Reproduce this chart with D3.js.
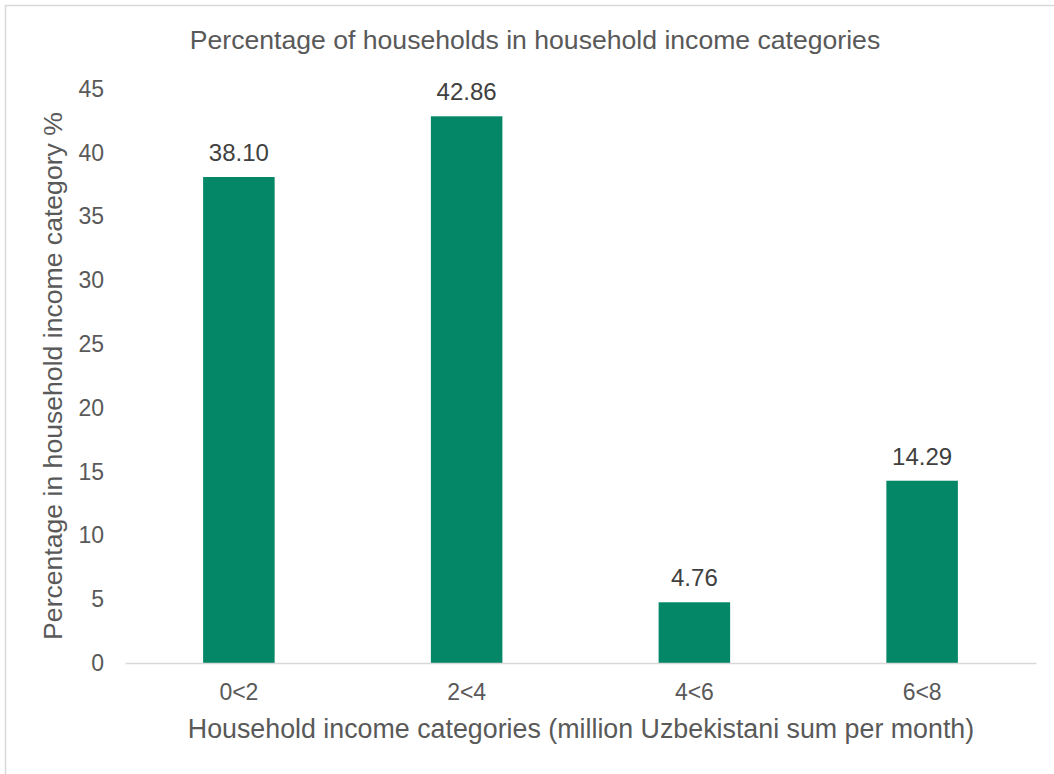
<!DOCTYPE html>
<html>
<head>
<meta charset="utf-8">
<script src="https://cdn.jsdelivr.net/npm/d3@7"></script>
<style>
  html, body { margin: 0; padding: 0; background: #fff; }
  svg { display: block; font-family: "Liberation Sans", Arial, sans-serif; }
</style>
</head>
<body>
<svg id="chart" width="1054" height="774"></svg>
<script>
// Household income categories and share of households in each (%)
const categories = ["0<2", "2<4", "4<6", "6<8"];
const percentages = [38.10, 42.86, 4.76, 14.29];
const yTicks = [0, 5, 10, 15, 20, 25, 30, 35, 40, 45];

const chartTitle = "Percentage of households in household income categories";
const xTitle = "Household income categories (million Uzbekistani sum per month)";
const yTitle = "Percentage in household income category %";

const svg = d3.select("#chart");
const W = 1054, H = 774;
const margin = { left: 125, right: 18, top: 89, bottom: 111 };
const FONT = "Liberation Sans, Arial, sans-serif";

// Chart frame
svg.append("rect")
  .attr("x", 5.5).attr("y", 5.5)
  .attr("width", W + 10).attr("height", H + 10)
  .attr("fill", "#fff").attr("stroke", "#d9d9d9").attr("stroke-width", 1.5);

const x = d3.scaleBand()
  .domain(categories)
  .range([margin.left, W - margin.right])
  .paddingInner(0.686)
  .paddingOuter(0.343);

const y = d3.scaleLinear()
  .domain([0, 45])
  .range([H - margin.bottom, margin.top]);

// Bars
svg.append("g").selectAll("rect")
  .data(percentages)
  .join("rect")
  .attr("x", (d, i) => x(categories[i]))
  .attr("y", d => y(d))
  .attr("width", x.bandwidth())
  .attr("height", d => y(0) - y(d))
  .attr("fill", "#038766");

// Value labels
svg.append("g").selectAll("text")
  .data(percentages)
  .join("text")
  .attr("x", (d, i) => x(categories[i]) + x.bandwidth() / 2)
  .attr("y", d => y(d) - 16)
  .attr("text-anchor", "middle")
  .attr("font-size", 24)
  .attr("fill", "#404040")
  .text(d => d.toFixed(2));

// Y axis (labels only)
const yAxis = svg.append("g")
  .attr("transform", `translate(${margin.left},0)`)
  .call(d3.axisLeft(y).tickValues(yTicks).tickSize(0).tickPadding(21));
yAxis.select(".domain").remove();
yAxis.selectAll("text")
  .attr("font-size", 23)
  .attr("font-family", FONT)
  .attr("fill", "#595959");

// X axis
const xAxis = svg.append("g")
  .attr("transform", `translate(0,${y(0)})`)
  .call(d3.axisBottom(x).tickSize(0).tickPadding(21));
xAxis.select(".domain")
  .attr("stroke", "#d9d9d9").attr("stroke-width", 1.5);
xAxis.selectAll("text")
  .attr("font-size", 23)
  .attr("font-family", FONT)
  .attr("fill", "#595959");

// Titles
svg.append("text")
  .attr("x", 535).attr("y", 49)
  .attr("text-anchor", "middle")
  .attr("font-size", 26.6)
  .attr("fill", "#595959")
  .text(chartTitle);

svg.append("text")
  .attr("x", 581).attr("y", 738)
  .attr("text-anchor", "middle")
  .attr("font-size", 26.8)
  .attr("fill", "#595959")
  .text(xTitle);

svg.append("text")
  .attr("transform", "translate(62,376) rotate(-90)")
  .attr("text-anchor", "middle")
  .attr("font-size", 26.6)
  .attr("fill", "#595959")
  .text(yTitle);
</script>
</body>
</html>
